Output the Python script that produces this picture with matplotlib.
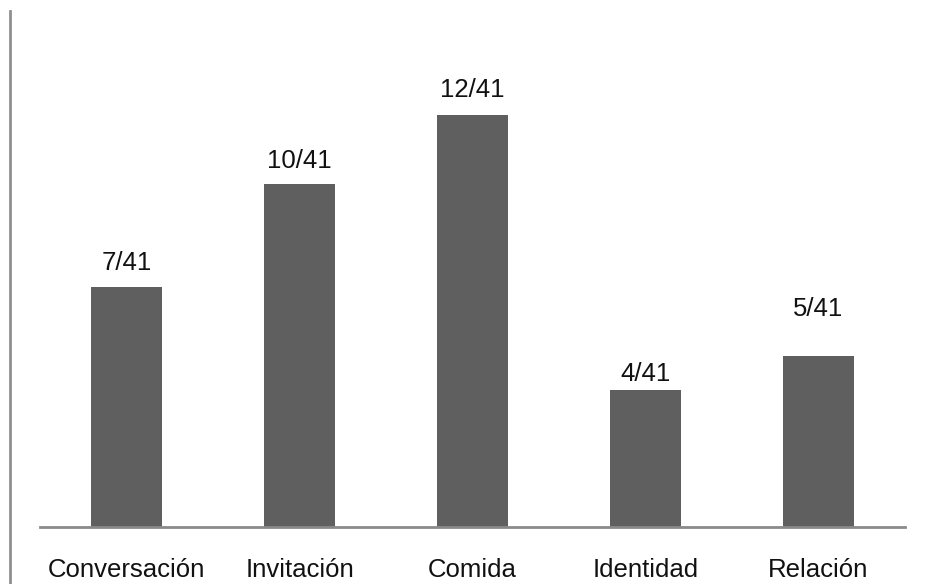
import matplotlib.pyplot as plt
from matplotlib.lines import Line2D

categories = ["Conversación", "Invitación", "Comida", "Identidad", "Relación"]
counts = [7, 10, 12, 4, 5]
total = 41
labels = [f"{c}/{total}" for c in counts]
# vertical gap (px) between the bar top and its label centre
label_gap = [24, 23, 25, 16, 47]

plt.rcParams["font.family"] = ["Liberation Sans", "DejaVu Sans"]

fig = plt.figure(figsize=(9.25, 5.84), dpi=100)
ax = fig.add_axes([40 / 925, 1 - 527 / 584, 865 / 925, 527 / 584])

x = range(len(categories))
ax.bar(x, counts, width=0.405, color="#5f5f5f", zorder=2)
ax.set_xlim(-0.5, len(categories) - 0.5)
ax.set_ylim(0, 527 / 34.3)

for i, (v, lab) in enumerate(zip(counts, labels)):
    ax.annotate(lab, (i, v), xytext=(0, label_gap[i] * 0.72), textcoords="offset points",
                ha="center", va="center", fontsize=18.5, color="#111111")

ax.set_xticks(list(x))
ax.set_xticklabels(categories, fontsize=18.5, color="#111111")
ax.tick_params(axis="x", length=0, pad=22)
ax.set_yticks([])
for side in ["top", "right", "left"]:
    ax.spines[side].set_visible(False)
ax.spines["bottom"].set_color("#8a8a8a")
ax.spines["bottom"].set_linewidth(2)

# thin grey rule down the left edge
fig.add_artist(Line2D([10 / 925, 10 / 925], [0, 1 - 11 / 584], transform=fig.transFigure,
                      color="#8f8f8f", linewidth=2))

fig.savefig("out.png", dpi=100)
